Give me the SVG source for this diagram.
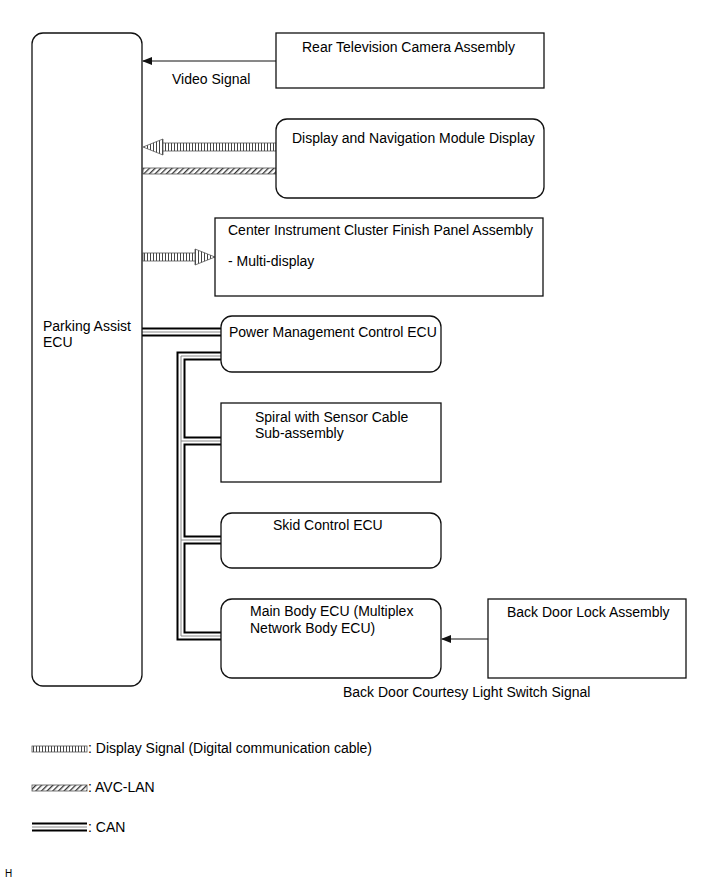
<svg xmlns="http://www.w3.org/2000/svg" width="713" height="882" viewBox="0 0 713 882">
<defs>
<style>
text{font-family:"Liberation Sans",Arial,sans-serif;font-size:14px;fill:#000}
.box{fill:#fff;stroke:#111;stroke-width:1.3}
.thin{fill:none;stroke:#111;stroke-width:1}
.canB{fill:none;stroke:#000;stroke-width:9;stroke-linejoin:miter}
.canW{fill:none;stroke:#fff;stroke-width:5;stroke-linejoin:miter}
.canG{fill:none;stroke:#888;stroke-width:1;stroke-linejoin:miter}
.vband{fill:url(#vh);stroke:#555;stroke-width:0.8}
.dband{fill:url(#dh);stroke:#555;stroke-width:0.8}
</style>
<pattern id="vh" width="3" height="10" patternUnits="userSpaceOnUse"><rect width="3" height="10" fill="#fff"/><rect width="1" height="10" fill="#444"/></pattern>
<pattern id="dh" width="4" height="4" patternUnits="userSpaceOnUse" patternTransform="rotate(45)"><rect width="4" height="4" fill="#fff"/><rect width="1.3" height="4" fill="#333"/></pattern>
<marker id="ah" markerWidth="10" markerHeight="8" refX="9" refY="4" orient="auto" markerUnits="userSpaceOnUse"><path d="M0,0 L10,4 L0,8 Z" fill="#111"/></marker>
</defs>

<g id="connectors">
<line class="thin" x1="276" y1="61" x2="143" y2="61" marker-end="url(#ah)"/>
<line class="thin" x1="488" y1="639" x2="442" y2="639" marker-end="url(#ah)"/>
<rect class="vband" x="162" y="143" width="114" height="8"/>
<polygon class="vband" points="143,147 163,139 163,155"/>
<rect class="dband" x="143" y="168" width="133" height="6"/>
<rect class="vband" x="143" y="253" width="53" height="8"/>
<polygon class="vband" points="215,257 195,249 195,265"/>
<g id="can">
<path class="canB" d="M142,332 H221 M221,356 H181 V636 H221 M181,441 H221 M181,540 H221"/>
<path class="canW" d="M142,332 H221 M221,356 H181 V636 H221 M181,441 H221 M181,540 H221"/>
<path class="canG" d="M142,332 H221 M221,356 H181 V636 H221 M181,441 H221 M181,540 H221"/>
</g>
</g>

<g id="parking-assist-ecu">
<rect class="box" x="32" y="33" width="110" height="653" rx="11"/>
<text x="43" y="331">Parking Assist</text>
<text x="43" y="347">ECU</text>
</g>
<g id="rear-camera">
<rect class="box" x="276" y="33" width="268" height="55"/>
<text x="302" y="52">Rear Television Camera Assembly</text>
</g>
<text x="172" y="84">Video Signal</text>
<g id="display-nav">
<rect class="box" x="276" y="119" width="268" height="79" rx="11"/>
<text x="292" y="143">Display and Navigation Module Display</text>
</g>
<g id="center-cluster">
<rect class="box" x="215" y="218" width="328" height="78"/>
<text x="228" y="235">Center Instrument Cluster Finish Panel Assembly</text>
<text x="228" y="266">- Multi-display</text>
</g>
<g id="power-mgmt">
<rect class="box" x="221" y="316" width="220" height="56" rx="11"/>
<text x="229" y="337">Power Management Control ECU</text>
</g>
<g id="spiral">
<rect class="box" x="221" y="403" width="220" height="79"/>
<text x="255" y="422">Spiral with Sensor Cable</text>
<text x="255" y="438">Sub-assembly</text>
</g>
<g id="skid">
<rect class="box" x="221" y="513" width="220" height="55" rx="11"/>
<text x="273" y="530">Skid Control ECU</text>
</g>
<g id="main-body">
<rect class="box" x="221" y="599" width="220" height="79" rx="11"/>
<text x="250" y="616">Main Body ECU (Multiplex</text>
<text x="250" y="633">Network Body ECU)</text>
</g>
<g id="back-door-lock">
<rect class="box" x="488" y="599" width="198" height="79"/>
<text x="507" y="617">Back Door Lock Assembly</text>
</g>
<text x="343" y="697">Back Door Courtesy Light Switch Signal</text>

<g id="legend">
<rect class="vband" x="32" y="746" width="55" height="6"/>
<text x="88" y="753">: Display Signal (Digital communication cable)</text>
<rect class="dband" x="32" y="785" width="55" height="6"/>
<text x="88" y="792">: AVC-LAN</text>
<path class="canB" d="M32,827 H87"/>
<path class="canW" d="M32,827 H87"/>
<path class="canG" d="M32,827 H87"/>
<text x="88" y="832">: CAN</text>
</g>
<text x="5" y="877" style="font-size:10px">H</text>
</svg>
